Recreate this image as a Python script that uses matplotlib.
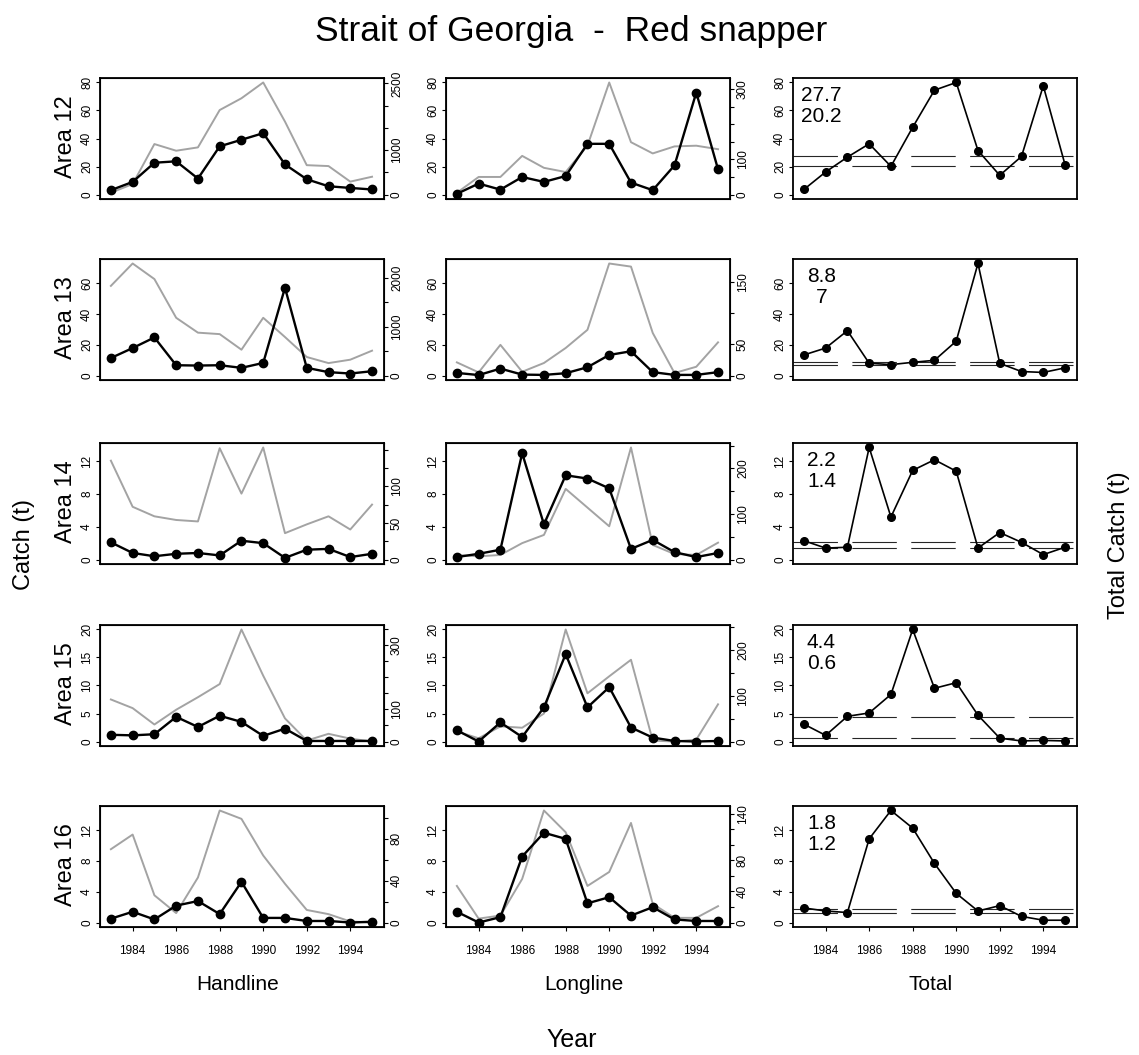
import matplotlib.pyplot as plt

plt.rcParams['font.family'] = ['Liberation Sans', 'DejaVu Sans']

years = [1983, 1984, 1985, 1986, 1987, 1988, 1989, 1990, 1991, 1992, 1993, 1994, 1995]
areas = ['Area 12', 'Area 13', 'Area 14', 'Area 15', 'Area 16']
gears = ['Handline', 'Longline', 'Total']

# catch (t) and effort by area, handline / longline / total
hl_catch_12 = [3.1, 9.0, 22.7, 23.7, 11.4, 34.4, 39.1, 43.8, 21.5, 10.9, 5.9, 4.7, 3.6]
hl_effort_12 = [40, 235, 1135, 985, 1060, 1900, 2165, 2520, 1640, 660, 640, 290, 400]
ll_catch_12 = [0.5, 7.8, 3.5, 12.5, 9.0, 13.2, 36.2, 36.2, 8.5, 3.1, 20.8, 72.8, 18.0]
ll_effort_12 = [5, 50, 50, 110, 76, 64, 139, 319, 149, 117, 137, 139, 129]
total_12 = [3.6, 16.1, 26.7, 36.2, 20.1, 48.0, 74.5, 80.0, 31.4, 13.7, 27.2, 77.6, 21.3]

hl_catch_13 = [11.4, 17.9, 24.8, 6.7, 6.5, 6.7, 5.0, 8.2, 57.2, 5.0, 2.2, 1.3, 2.8]
hl_effort_13 = [1840, 2300, 1980, 1185, 880, 850, 530, 1185, 790, 380, 255, 325, 510]
ll_catch_13 = [1.7, 0.3, 4.5, 0.6, 0.4, 1.5, 5.4, 13.4, 15.8, 2.2, 0.4, 0.4, 2.2]
ll_effort_13 = [21, 5, 49, 6, 20, 44, 73, 179, 174, 68, 4, 14, 53]
total_13 = [13.4, 17.9, 29.2, 8.0, 7.1, 8.6, 9.9, 22.4, 73.0, 7.9, 2.6, 2.0, 5.0]

hl_catch_14 = [2.1, 0.8, 0.4, 0.7, 0.8, 0.5, 2.3, 2.0, 0.2, 1.2, 1.3, 0.3, 0.7]
hl_effort_14 = [135, 72, 59, 54, 52, 152, 90, 153, 36, 48, 59, 41, 75]
ll_catch_14 = [0.3, 0.7, 1.2, 13.0, 4.3, 10.3, 9.9, 8.7, 1.3, 2.4, 0.9, 0.3, 0.8]
ll_effort_14 = [10, 7, 10, 36, 54, 155, 114, 73, 246, 32, 12, 10, 37]
total_14 = [2.3, 1.4, 1.5, 13.7, 5.2, 10.9, 12.2, 10.8, 1.4, 3.3, 2.1, 0.6, 1.5]

hl_catch_15 = [1.2, 1.1, 1.3, 4.4, 2.6, 4.6, 3.5, 1.0, 2.3, 0.1, 0.1, 0.1, 0.1]
hl_effort_15 = [131, 104, 53, 99, 138, 179, 349, 205, 72, 3, 24, 9, 0]
ll_catch_15 = [2.0, 0.0, 3.4, 0.8, 6.1, 15.6, 6.1, 9.7, 2.5, 0.7, 0.1, 0.0, 0.1]
ll_effort_15 = [22, 7, 33, 30, 61, 244, 105, 142, 178, 2, 0, 4, 81]
total_15 = [3.1, 1.1, 4.5, 5.1, 8.4, 20.0, 9.5, 10.5, 4.7, 0.6, 0.1, 0.2, 0.1]

hl_catch_16 = [0.5, 1.4, 0.4, 2.2, 2.8, 1.1, 5.3, 0.6, 0.6, 0.2, 0.2, 0.0, 0.1]
hl_effort_16 = [70, 84, 26, 9, 43, 107, 99, 64, 37, 12, 8, 1, 0]
ll_catch_16 = [1.4, 0.0, 0.7, 8.6, 11.7, 10.9, 2.5, 3.3, 0.9, 2.0, 0.4, 0.2, 0.2]
ll_effort_16 = [47, 5, 9, 56, 144, 116, 47, 65, 128, 24, 6, 6, 21]
total_16 = [1.9, 1.5, 1.3, 10.9, 14.6, 12.3, 7.7, 3.8, 1.5, 2.2, 0.8, 0.3, 0.3]

# reference levels shown on the total panels
ref_hi = [27.7, 8.8, 2.2, 4.4, 1.8]
ref_lo = [20.2, 7, 1.4, 0.6, 1.2]

# axis ticks
catch_ticks = [[0, 20, 40, 60, 80], [0, 20, 40, 60], [0, 4, 8, 12], [0, 5, 10, 15, 20], [0, 4, 8, 12]]
hl_effort_ticks = [[0, 500, 1000, 1500, 2000, 2500], [0, 500, 1000, 1500, 2000],
                   [0, 25, 50, 75, 100, 125, 150], [0, 50, 100, 150, 200, 250, 300, 350],
                   [0, 20, 40, 60, 80, 100]]
hl_effort_labels = [[0, 1000, 2500], [0, 1000, 2000], [0, 50, 100], [0, 100, 300], [0, 40, 80]]
ll_effort_ticks = [[0, 50, 100, 150, 200, 250, 300], [0, 50, 100, 150],
                   [0, 50, 100, 150, 200, 250], [0, 50, 100, 150, 200, 250],
                   [0, 20, 40, 60, 80, 100, 120, 140]]
ll_effort_labels = [[0, 100, 300], [0, 50, 150], [0, 100, 200], [0, 100, 200], [0, 40, 80, 140]]
year_ticks = [1984, 1986, 1988, 1990, 1992, 1994]

hl_catch = [hl_catch_12, hl_catch_13, hl_catch_14, hl_catch_15, hl_catch_16]
hl_effort = [hl_effort_12, hl_effort_13, hl_effort_14, hl_effort_15, hl_effort_16]
ll_catch = [ll_catch_12, ll_catch_13, ll_catch_14, ll_catch_15, ll_catch_16]
ll_effort = [ll_effort_12, ll_effort_13, ll_effort_14, ll_effort_15, ll_effort_16]
totals = [total_12, total_13, total_14, total_15, total_16]

W, H = 1139, 1055
fig = plt.figure(figsize=(W / 100, H / 100), dpi=100)

col_left = [100, 446, 793]
row_top = [78, 259, 443, 625, 806]
pw, ph = 284, 121


def fx(x):
    return x / W


def fy(y):
    return 1 - y / H


def rlim(top):
    # R style 4% padding, axis starting from zero
    return (-0.04 * top, 1.04 * top)


def tick_text(v):
    return '%g' % v


def set_yaxis(ax, ticks, shown, side):
    ax.set_yticks(ticks)
    ax.set_yticklabels([tick_text(t) if t in shown else '' for t in ticks])
    ax.tick_params(axis='y', length=3, width=0.8, labelsize=8.5, pad=2)
    for lab in ax.get_yticklabels():
        lab.set_rotation(90)
        lab.set_va('center')
        lab.set_ha('right' if side == 'left' else 'left')


for r in range(5):
    cmax = max(totals[r])
    series = [(hl_catch[r], hl_effort[r], hl_effort_ticks[r], hl_effort_labels[r]),
              (ll_catch[r], ll_effort[r], ll_effort_ticks[r], ll_effort_labels[r]),
              (totals[r], None, None, None)]
    for c in range(3):
        ax = fig.add_axes([fx(col_left[c]), fy(row_top[r] + ph), pw / W, ph / H])
        catch, effort, eticks, elabels = series[c]

        if effort is not None:
            ax2 = ax.twinx()
            ax2.plot(years, effort, color='0.64', lw=1.4, zorder=2)
            ax2.set_ylim(*rlim(max(effort)))
            set_yaxis(ax2, eticks, elabels, 'right')
            ax.set_zorder(ax2.get_zorder() + 1)
            ax.patch.set_visible(False)
            ax.plot(years, catch, color='k', lw=1.7, marker='o', ms=6, zorder=3)
        else:
            ax.plot(years, catch, color='k', lw=1.2, marker='o', ms=5.5, zorder=3)
            for v in (ref_hi[r], ref_lo[r]):
                ax.axhline(v, color='0.15', lw=0.8, dashes=(40, 13), zorder=1)
            ax.text(0.1, 0.77, tick_text(ref_hi[r]) + '\n' + tick_text(ref_lo[r]),
                    transform=ax.transAxes, ha='center', va='center',
                    multialignment='center', fontsize=15, linespacing=1.12)

        ax.set_xlim(1982.5, 1995.55)
        ax.set_ylim(*rlim(cmax))
        set_yaxis(ax, catch_ticks[r], catch_ticks[r], 'left')
        for s in ax.spines.values():
            s.set_linewidth(1.3)
        if r == 4:
            ax.set_xticks(year_ticks)
            ax.set_xticklabels([str(y) for y in year_ticks])
            ax.tick_params(axis='x', length=3, width=0.8, labelsize=8.5, pad=10)
        else:
            ax.set_xticks([])

    fig.text(fx(66), fy(row_top[r] + ph / 2 - 2), areas[r], rotation=90,
             ha='center', va='center', fontsize=17)

for c in range(3):
    fig.text(fx(col_left[c] + pw / 2 - 4), fy(985), gears[c], ha='center', va='center', fontsize=15)

fig.text(fx(571), fy(32), 'Strait of Georgia  -  Red snapper', ha='center', va='center', fontsize=25.5)
fig.text(fx(24), fy(545), 'Catch (t)', rotation=90, ha='center', va='center', fontsize=17)
fig.text(fx(1119), fy(545), 'Total Catch (t)', rotation=90, ha='center', va='center', fontsize=17)
fig.text(fx(572), fy(1040), 'Year', ha='center', va='center', fontsize=18)

fig.savefig('out.png', dpi=100)
